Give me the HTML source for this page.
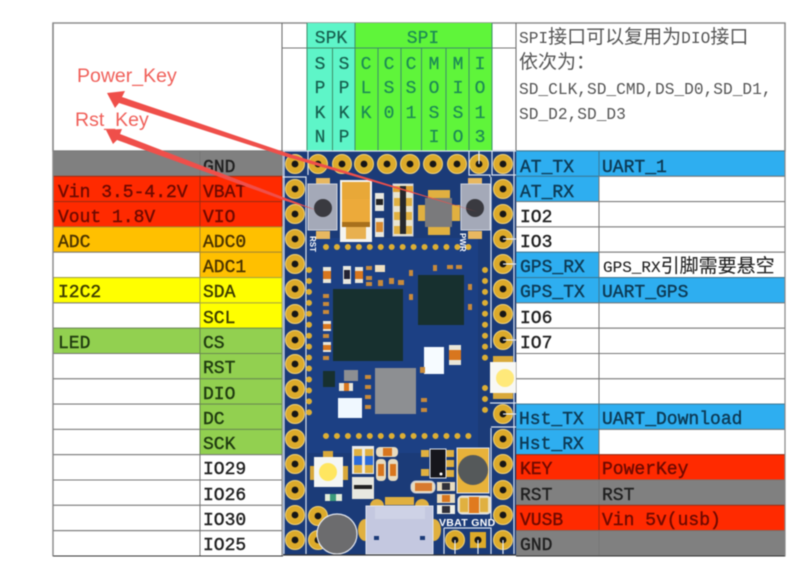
<!DOCTYPE html>
<html>
<head>
<meta charset="utf-8">
<style>
html,body{margin:0;padding:0;background:#fff;width:798px;height:588px;overflow:hidden}
svg{display:block;filter:blur(.5px)}
.t{font-family:"Liberation Mono","Noto Sans CJK SC",monospace;font-size:18px;fill:#222;stroke:#222;stroke-width:.4}
.r{fill:#6e0a00;stroke:#6e0a00}
.o{fill:#4a3300;stroke:#4a3300}
.y{fill:#3c3c00;stroke:#3c3c00}
.g{fill:#1f3a10;stroke:#1f3a10}
.b{fill:#0d3a55;stroke:#0d3a55}
.k{fill:#202020;stroke:#202020}
.h{font-family:"Liberation Mono","Noto Sans CJK SC",monospace;font-size:18px;text-anchor:middle;stroke-width:.2}
.sp{fill:#16604f;stroke:#16604f}
.si{fill:#1c8a55;stroke:#1c8a55}
.n{font-family:"Liberation Mono","Noto Sans CJK SC",monospace;font-size:16.2px;fill:#555}
.c{font-size:19px}
.l{font-family:"Liberation Sans",sans-serif;font-size:19.5px;fill:#f0605a}
.w{font-family:"Liberation Sans",sans-serif;font-weight:bold;fill:#fff}
</style>
</head>
<body>
<svg width="798" height="588" viewBox="0 0 798 588" xmlns="http://www.w3.org/2000/svg">
<defs>
<g id="p"><circle r="9.5" fill="#dcaa2a" stroke="#efd27c" stroke-width="1"/><circle r="3.4" fill="#161616"/></g>
</defs>
<rect width="798" height="588" fill="#fff"/>

<!-- header -->
<rect x="53" y="23" width="732" height="128" fill="#fff" stroke="#888" stroke-width="1.4"/>
<line x1="282" y1="23" x2="282" y2="151" stroke="#666"/>
<line x1="516" y1="23" x2="516" y2="151" stroke="#666"/>
<line x1="282" y1="48" x2="516" y2="48" stroke="#777"/>
<rect x="307" y="23" width="48" height="128" fill="#5ef5c8"/>
<rect x="355" y="23" width="137" height="128" fill="#5ff53a"/>
<g stroke="#3d8f6a" stroke-width="1">
<line x1="307" y1="48" x2="492" y2="48"/>
<line x1="307" y1="23" x2="307" y2="151"/>
<line x1="332.500" y1="48" x2="332.500" y2="151"/>
<line x1="355" y1="23" x2="355" y2="151"/>
<line x1="378" y1="48" x2="378" y2="151"/>
<line x1="401" y1="48" x2="401" y2="151"/>
<line x1="421.500" y1="48" x2="421.500" y2="151"/>
<line x1="446" y1="48" x2="446" y2="151"/>
<line x1="469" y1="48" x2="469" y2="151"/>
<line x1="492" y1="23" x2="492" y2="151"/>
</g>
<text class="h sp" x="331" y="43">SPK</text>
<text class="h si" x="423" y="43">SPI</text>
<text class="h sp" x="320" y="69">S</text><text class="h sp" x="320" y="93">P</text><text class="h sp" x="320" y="118">K</text><text class="h sp" x="320" y="142">N</text>
<text class="h sp" x="344" y="69">S</text><text class="h sp" x="344" y="93">P</text><text class="h sp" x="344" y="118">K</text><text class="h sp" x="344" y="142">P</text>
<text class="h si" x="366" y="69">C</text><text class="h si" x="366" y="93">L</text><text class="h si" x="366" y="118">K</text>
<text class="h si" x="389" y="69">C</text><text class="h si" x="389" y="93">S</text><text class="h si" x="389" y="118">0</text>
<text class="h si" x="411" y="69">C</text><text class="h si" x="411" y="93">S</text><text class="h si" x="411" y="118">1</text>
<text class="h si" x="434" y="69">M</text><text class="h si" x="434" y="93">O</text><text class="h si" x="434" y="118">S</text><text class="h si" x="434" y="142">I</text>
<text class="h si" x="458" y="69">M</text><text class="h si" x="458" y="93">I</text><text class="h si" x="458" y="118">S</text><text class="h si" x="458" y="142">O</text>
<text class="h si" x="480" y="69">I</text><text class="h si" x="480" y="93">O</text><text class="h si" x="480" y="118">1</text><text class="h si" x="480" y="142">3</text>

<text class="n" x="519" y="43">SPI<tspan class="c">接口可以复用为</tspan>DIO<tspan class="c">接口</tspan></text>
<text class="n" x="519" y="68"><tspan class="c">依次为：</tspan></text>
<text class="n" x="519" y="94">SD_CLK,SD_CMD,DS_D0,SD_D1,</text>
<text class="n" x="519" y="119">SD_D2,SD_D3</text>

<!-- left table -->
<g stroke="#777" stroke-width="1">
<rect x="53" y="151" width="147" height="25.3" fill="#808080"/><rect x="200" y="151" width="82" height="25.3" fill="#808080"/>
<rect x="53" y="176.300" width="147" height="25.3" fill="#ff2a00" stroke="#a02a10"/><rect x="200" y="176.300" width="82" height="25.3" fill="#ff2a00" stroke="#a02a10"/>
<rect x="53" y="201.600" width="147" height="25.3" fill="#ff2a00" stroke="#a02a10"/><rect x="200" y="201.600" width="82" height="25.3" fill="#ff2a00" stroke="#a02a10"/>
<rect x="53" y="226.900" width="147" height="25.3" fill="#ffc000" stroke="#a88a30"/><rect x="200" y="226.900" width="82" height="25.3" fill="#ffc000" stroke="#a88a30"/>
<rect x="53" y="252.200" width="147" height="25.3" fill="#fff"/><rect x="200" y="252.200" width="82" height="25.3" fill="#ffc000" stroke="#a88a30"/>
<rect x="53" y="277.600" width="147" height="25.3" fill="#ffff00" stroke="#a8a840"/><rect x="200" y="277.600" width="82" height="25.3" fill="#ffff00" stroke="#a8a840"/>
<rect x="53" y="302.900" width="147" height="25.3" fill="#fff"/><rect x="200" y="302.900" width="82" height="25.3" fill="#ffff00" stroke="#a8a840"/>
<rect x="53" y="328.200" width="147" height="25.3" fill="#92d050" stroke="#6a8a50"/><rect x="200" y="328.200" width="82" height="25.3" fill="#92d050" stroke="#6a8a50"/>
<rect x="53" y="353.500" width="147" height="25.3" fill="#fff"/><rect x="200" y="353.500" width="82" height="25.3" fill="#92d050" stroke="#6a8a50"/>
<rect x="53" y="378.800" width="147" height="25.3" fill="#fff"/><rect x="200" y="378.800" width="82" height="25.3" fill="#92d050" stroke="#6a8a50"/>
<rect x="53" y="404.100" width="147" height="25.3" fill="#fff"/><rect x="200" y="404.100" width="82" height="25.3" fill="#92d050" stroke="#6a8a50"/>
<rect x="53" y="429.400" width="147" height="25.3" fill="#fff"/><rect x="200" y="429.400" width="82" height="25.3" fill="#92d050" stroke="#6a8a50"/>
<rect x="53" y="454.700" width="147" height="25.3" fill="#fff"/><rect x="200" y="454.700" width="82" height="25.3" fill="#fff"/>
<rect x="53" y="480" width="147" height="25.3" fill="#fff"/><rect x="200" y="480" width="82" height="25.3" fill="#fff"/>
<rect x="53" y="505.300" width="147" height="25.3" fill="#fff"/><rect x="200" y="505.300" width="82" height="25.3" fill="#fff"/>
<rect x="53" y="530.700" width="147" height="25.3" fill="#fff"/><rect x="200" y="530.700" width="82" height="25.3" fill="#fff"/>
</g>
<text class="t k" x="203" y="172">GND</text>
<text class="t r" x="58" y="197">Vin 3.5-4.2V</text><text class="t r" x="203" y="197">VBAT</text>
<text class="t r" x="58" y="222">Vout 1.8V</text><text class="t r" x="203" y="222">VIO</text>
<text class="t o" x="58" y="247">ADC</text><text class="t o" x="203" y="247">ADC0</text>
<text class="t o" x="203" y="272">ADC1</text>
<text class="t y" x="58" y="297">I2C2</text><text class="t y" x="203" y="297">SDA</text>
<text class="t y" x="203" y="323">SCL</text>
<text class="t g" x="58" y="348">LED</text><text class="t g" x="203" y="348">CS</text>
<text class="t g" x="203" y="373">RST</text>
<text class="t g" x="203" y="399">DIO</text>
<text class="t g" x="203" y="424">DC</text>
<text class="t g" x="203" y="449">SCK</text>
<text class="t k" x="203" y="474">IO29</text>
<text class="t k" x="203" y="500">IO26</text>
<text class="t k" x="203" y="525">IO30</text>
<text class="t k" x="203" y="550">IO25</text>

<!-- right table -->
<g stroke="#777" stroke-width="1">
<rect x="516" y="151" width="83" height="25.3" fill="#2eaef0" stroke="#3a7a9a"/><rect x="599" y="151" width="186" height="25.3" fill="#2eaef0" stroke="#3a7a9a"/>
<rect x="516" y="176.300" width="83" height="25.3" fill="#2eaef0" stroke="#3a7a9a"/><rect x="599" y="176.300" width="186" height="25.3" fill="#fff"/>
<rect x="516" y="201.600" width="83" height="25.3" fill="#fff"/><rect x="599" y="201.600" width="186" height="25.3" fill="#fff"/>
<rect x="516" y="226.900" width="83" height="25.3" fill="#fff"/><rect x="599" y="226.900" width="186" height="25.3" fill="#fff"/>
<rect x="516" y="252.200" width="83" height="25.3" fill="#2eaef0" stroke="#3a7a9a"/><rect x="599" y="252.200" width="186" height="25.3" fill="#fff"/>
<rect x="516" y="277.600" width="83" height="25.3" fill="#2eaef0" stroke="#3a7a9a"/><rect x="599" y="277.600" width="186" height="25.3" fill="#2eaef0" stroke="#3a7a9a"/>
<rect x="516" y="302.900" width="83" height="25.3" fill="#fff"/><rect x="599" y="302.900" width="186" height="25.3" fill="#fff"/>
<rect x="516" y="328.200" width="83" height="25.3" fill="#fff"/><rect x="599" y="328.200" width="186" height="25.3" fill="#fff"/>
<rect x="516" y="353.500" width="83" height="25.3" fill="#fff"/><rect x="599" y="353.500" width="186" height="25.3" fill="#fff"/>
<rect x="516" y="378.800" width="83" height="25.3" fill="#fff"/><rect x="599" y="378.800" width="186" height="25.3" fill="#fff"/>
<rect x="516" y="404.100" width="83" height="25.3" fill="#2eaef0" stroke="#3a7a9a"/><rect x="599" y="404.100" width="186" height="25.3" fill="#2eaef0" stroke="#3a7a9a"/>
<rect x="516" y="429.400" width="83" height="25.3" fill="#2eaef0" stroke="#3a7a9a"/><rect x="599" y="429.400" width="186" height="25.3" fill="#fff"/>
<rect x="516" y="454.700" width="83" height="25.3" fill="#ff2a00" stroke="#a02a10"/><rect x="599" y="454.700" width="186" height="25.3" fill="#ff2a00" stroke="#a02a10"/>
<rect x="516" y="480" width="83" height="25.3" fill="#808080"/><rect x="599" y="480" width="186" height="25.3" fill="#808080"/>
<rect x="516" y="505.300" width="83" height="25.3" fill="#ff2a00" stroke="#a02a10"/><rect x="599" y="505.300" width="186" height="25.3" fill="#ff2a00" stroke="#a02a10"/>
<rect x="516" y="530.700" width="83" height="25.3" fill="#808080"/><rect x="599" y="530.700" width="186" height="25.3" fill="#808080"/>
</g>
<text class="t b" x="520" y="172">AT_TX</text><text class="t b" x="602" y="172">UART_1</text>
<text class="t b" x="520" y="197">AT_RX</text>
<text class="t k" x="520" y="222">IO2</text>
<text class="t k" x="520" y="247">IO3</text>
<text class="t b" x="520" y="272">GPS_RX</text>
<text class="t k" x="603" y="272" style="font-size:16px;stroke-width:.1">GPS_RX<tspan class="c">引脚需要悬空</tspan></text>
<text class="t b" x="520" y="297">GPS_TX</text><text class="t b" x="602" y="297">UART_GPS</text>
<text class="t k" x="520" y="323">IO6</text>
<text class="t k" x="520" y="348">IO7</text>
<text class="t b" x="519" y="424">Hst_TX</text><text class="t b" x="602" y="424">UART_Download</text>
<text class="t b" x="519" y="449">Hst_RX</text>
<text class="t r" x="520" y="474">KEY</text><text class="t r" x="602" y="474">PowerKey</text>
<text class="t k" x="520" y="500">RST</text><text class="t k" x="602" y="500">RST</text>
<text class="t r" x="520" y="525">VUSB</text><text class="t r" x="602" y="525">Vin 5v(usb)</text>
<text class="t k" x="520" y="550">GND</text>
<line x1="53" y1="556" x2="785" y2="556" stroke="#333" stroke-width="1"/>
<line x1="53" y1="23" x2="53" y2="556" stroke="#888" stroke-width="1.4"/>
<line x1="785" y1="23" x2="785" y2="556" stroke="#888" stroke-width="1.2"/>

<!-- board -->
<rect x="283" y="151" width="233" height="404" fill="#1b3b78"/>
<rect x="308" y="238" width="170" height="215" fill="#1c4084"/>
<g fill="none" stroke="#d8e2f0" stroke-width="1.2">
<path d="M283 151H516"/>
<path d="M283 177H306V554"/>
<path d="M308 151V175"/>
<path d="M469 151V175H490V177"/>
<path d="M492 151V175H516"/>
<path d="M491 177V348"/>
<path d="M490 403H516"/>
<path d="M491 427H516"/>
<path d="M284 151V554"/>
<path d="M491 428V520"/>
<path d="M444 528H491V554"/>
<path d="M444 528V554"/>
<path d="M514 151V554"/>
</g>

<!-- dots -->
<g stroke="#dcae34" stroke-width="6" stroke-linecap="round" stroke-dasharray="0 10.95" fill="none">
<line x1="326" y1="247" x2="470" y2="247"/>
<line x1="326" y1="436" x2="470" y2="436"/>
<line x1="309" y1="270" x2="309" y2="418"/>
<line x1="485" y1="270" x2="485" y2="360"/>
<line x1="485" y1="388" x2="485" y2="415"/>
</g>

<!-- pads -->
<use href="#p" x="295" y="164"/><use href="#p" x="318" y="164"/><use href="#p" x="342" y="164"/><use href="#p" x="364" y="164"/><use href="#p" x="387" y="164"/><use href="#p" x="410" y="164"/><use href="#p" x="433" y="164"/><use href="#p" x="457" y="164"/><use href="#p" x="479" y="164"/><use href="#p" x="503" y="164"/>
<use href="#p" x="295" y="189"/><use href="#p" x="295" y="214"/><use href="#p" x="295" y="239"/><use href="#p" x="295" y="264"/><use href="#p" x="295" y="289"/><use href="#p" x="295" y="314"/><use href="#p" x="295" y="340"/><use href="#p" x="295" y="364"/><use href="#p" x="295" y="389"/><use href="#p" x="295" y="414"/><use href="#p" x="295" y="439"/><use href="#p" x="295" y="464"/><use href="#p" x="295" y="490"/><use href="#p" x="295" y="515"/><use href="#p" x="295" y="540"/>
<use href="#p" x="503" y="189"/><use href="#p" x="503" y="214"/><use href="#p" x="503" y="239"/><use href="#p" x="503" y="264"/><use href="#p" x="503" y="289"/><use href="#p" x="503" y="314"/><use href="#p" x="503" y="340"/><use href="#p" x="503" y="414"/><use href="#p" x="503" y="439"/><use href="#p" x="503" y="464"/><use href="#p" x="503" y="490"/><use href="#p" x="503" y="515"/><use href="#p" x="503" y="540"/>
<use href="#p" x="318" y="516"/><use href="#p" x="318" y="540"/>
<use href="#p" x="455" y="540"/>
<rect x="470" y="532" width="16" height="16" fill="#dcaa2a"/><circle cx="478" cy="540" r="3.5" fill="#161616"/>
<g stroke="#e8eef8" stroke-width="1.2"><line x1="503" y1="239" x2="516" y2="239"/><line x1="503" y1="264" x2="516" y2="264"/><line x1="503" y1="340" x2="516" y2="340"/><line x1="503" y1="414" x2="516" y2="414"/><line x1="479" y1="151" x2="479" y2="164"/><line x1="455" y1="540" x2="455" y2="554"/><line x1="478" y1="540" x2="478" y2="554"/><line x1="503" y1="540" x2="503" y2="554"/></g>

<!-- buttons -->
<rect x="316" y="178" width="14" height="8" fill="#e8b860"/><rect x="316" y="231" width="14" height="8" fill="#e8b860"/>
<rect x="308" y="184" width="29" height="46" fill="#a4a9b8" stroke="#d0d4de"/>
<circle cx="323" cy="208" r="9" fill="#3a3a40"/>
<rect x="468" y="178" width="14" height="8" fill="#e8b860"/><rect x="468" y="231" width="14" height="8" fill="#e8b860"/>
<rect x="461" y="184" width="29" height="46" fill="#a4a9b8" stroke="#d0d4de"/>
<circle cx="475" cy="208" r="9" fill="#3a3a40"/>

<!-- tantalum cap -->
<rect x="340" y="180" width="32" height="62" fill="#f4f4f0"/>
<rect x="342" y="182" width="28" height="20" fill="#e8a838"/>
<rect x="342" y="199" width="28" height="28" fill="#ecaa3a"/>
<rect x="342" y="222" width="28" height="5" fill="#a8701c"/>
<rect x="346" y="227" width="20" height="12" fill="#e8b050"/>

<!-- small parts -->
<rect x="375" y="193" width="9" height="18" fill="#e8e8e0"/><rect x="376" y="199" width="7" height="6" fill="#222"/>
<rect x="375" y="218" width="9" height="19" fill="#e8e8e0"/><rect x="376" y="222" width="7" height="10" fill="#d88a30"/>
<rect x="393" y="184" width="20" height="52" fill="#e8e4d0" stroke="#c8ccd8"/>
<rect x="400" y="186" width="6" height="48" fill="#26282c"/>
<rect x="393" y="186" width="7" height="6" fill="#e0a030"/><rect x="406" y="186" width="7" height="6" fill="#e0a030"/>
<rect x="394" y="198" width="6" height="8" fill="#e0b040"/><rect x="406" y="198" width="6" height="8" fill="#e0b040"/>
<rect x="394" y="212" width="6" height="8" fill="#e0b040"/><rect x="406" y="212" width="6" height="8" fill="#e0b040"/>
<rect x="394" y="226" width="6" height="8" fill="#e0b040"/><rect x="406" y="226" width="6" height="8" fill="#e0b040"/>
<rect x="428" y="190" width="22" height="8" fill="#e0b040"/><rect x="428" y="227" width="22" height="8" fill="#e0b040"/>
<rect x="418" y="205" width="8" height="16" fill="#e0b040"/><rect x="452" y="205" width="8" height="16" fill="#e0b040"/>
<rect x="425" y="198" width="27" height="29" fill="#7a7a7c"/>
<text class="w" font-size="8" transform="translate(460,233) rotate(90)">PWR</text>
<text class="w" font-size="8" transform="translate(310,236) rotate(90)">RST</text>

<!-- chips mid -->
<rect x="333" y="289" width="70" height="72" fill="#17302f"/>
<rect x="418" y="275" width="46" height="50" fill="#17302f"/>
<rect x="424" y="347" width="20" height="27" fill="#f6fbff"/>
<rect x="449" y="345" width="12" height="20" fill="#eae6d8"/><rect x="449" y="350" width="12" height="10" fill="#d8761e"/>
<rect x="375" y="368" width="41" height="46" fill="#8d8f92"/>
<rect x="338" y="398" width="24" height="20" fill="#f0f8ff"/>
<rect x="323" y="371" width="12" height="16" fill="#17302f"/>
<rect x="344" y="370" width="14" height="11" fill="#8d8f92"/>
<rect x="339" y="383" width="14" height="8" fill="#eae6d8"/><rect x="344" y="383" width="5" height="8" fill="#d8761e"/>
<rect x="323" y="267" width="8" height="16" fill="#eae6d8"/><rect x="323" y="271" width="8" height="8" fill="#d8761e"/>
<rect x="343" y="266" width="8" height="18" fill="#e8e8e0"/><rect x="344" y="270" width="6" height="9" fill="#223"/>
<rect x="355" y="267" width="8" height="16" fill="#eae6d8"/><rect x="355" y="271" width="8" height="8" fill="#d8761e"/>
<rect x="375" y="265" width="10" height="7" fill="#f0e0c0"/>
<rect x="323" y="321" width="8" height="10" fill="#eae6d8"/><rect x="323" y="324" width="8" height="5" fill="#d8761e"/>
<rect x="323" y="342" width="8" height="10" fill="#eae6d8"/><rect x="323" y="345" width="8" height="5" fill="#d8761e"/>
<g fill="#c88a3a">
<rect x="366" y="266" width="6" height="4"/><rect x="366" y="276" width="6" height="4"/><rect x="366" y="282" width="6" height="4"/>
<rect x="378" y="280" width="5" height="6"/><rect x="389" y="278" width="5" height="6"/><rect x="398" y="280" width="6" height="5"/>
<rect x="409" y="270" width="4" height="6"/><rect x="409" y="294" width="4" height="6"/><rect x="433" y="265" width="4" height="6"/>
<rect x="447" y="265" width="6" height="4"/><rect x="456" y="265" width="6" height="4"/><rect x="468" y="284" width="4" height="6"/><rect x="468" y="304" width="4" height="6"/>
<rect x="323" y="294" width="6" height="4"/><rect x="323" y="302" width="6" height="4"/><rect x="323" y="310" width="6" height="4"/><rect x="323" y="334" width="6" height="4"/><rect x="323" y="356" width="6" height="4"/>
<rect x="365" y="375" width="6" height="4"/><rect x="365" y="385" width="6" height="4"/><rect x="365" y="395" width="6" height="4"/><rect x="365" y="405" width="6" height="4"/>
<rect x="420" y="367" width="5" height="6"/><rect x="421" y="398" width="6" height="4"/><rect x="421" y="408" width="6" height="4"/>
</g>

<!-- right LED -->
<rect x="493" y="356" width="20" height="7" fill="#d8a83a"/><rect x="493" y="392" width="20" height="7" fill="#d8a83a"/>
<rect x="490" y="362" width="26" height="31" fill="#f8f8f4"/>
<circle cx="505" cy="378" r="9" fill="#ffe97a"/>

<!-- lower parts -->
<rect x="310" y="466" width="38" height="14" fill="#d8a83a"/><rect x="323" y="451" width="10" height="8" fill="#d8a83a"/>
<rect x="314" y="457" width="29" height="30" fill="#f4f6f4"/>
<circle cx="328" cy="472" r="9" fill="#ffe660"/>
<rect x="325" y="494" width="17" height="7" fill="#e4ecd8"/><rect x="330" y="494" width="6" height="7" fill="#3a9a7a"/>
<rect x="352" y="446" width="22" height="28" fill="#eaeaea"/>
<rect x="354" y="449" width="8" height="24" fill="#e0b040"/><rect x="365" y="449" width="8" height="24" fill="#e0b040"/>
<rect x="354" y="456" width="8" height="9" fill="#2a6ad8"/><rect x="365" y="456" width="8" height="9" fill="#2a6ad8"/>
<rect x="352" y="477" width="22" height="22" fill="#e8e8e0"/><rect x="354" y="485" width="18" height="4" fill="#222"/>
<rect x="376" y="447" width="22" height="10" rx="4" fill="#e8dcc0"/><rect x="383" y="448" width="9" height="8" fill="#d8761e"/>
<rect x="376" y="459" width="10" height="22" rx="4" fill="#e8dcc0"/><rect x="378" y="464" width="6" height="12" fill="#d8761e"/>
<rect x="388" y="459" width="10" height="22" rx="4" fill="#e8dcc0"/><rect x="390" y="464" width="6" height="12" fill="#d8761e"/>
<rect x="421" y="450" width="8" height="7" fill="#e0b040"/><rect x="421" y="469" width="8" height="7" fill="#e0b040"/>
<rect x="446" y="450" width="8" height="7" fill="#e0b040"/><rect x="446" y="460" width="8" height="7" fill="#e0b040"/><rect x="446" y="470" width="8" height="7" fill="#e0b040"/>
<rect x="430" y="449" width="16" height="29" fill="#16161c" stroke="#dfe4ee"/>
<circle cx="441" cy="474" r="1.5" fill="#fff"/>
<rect x="457" y="448" width="32" height="45" fill="#e8b23a" stroke="#dfe4ee"/>
<circle cx="473" cy="470" r="15" fill="#55595a"/>
<rect x="411" y="481" width="24" height="12" rx="5" fill="#e8dcc0" stroke="#c8ccd8"/><rect x="415" y="483" width="17" height="8" fill="#d87a2e"/>
<rect x="437" y="482" width="18" height="9" fill="#e8dcc0"/><rect x="442" y="483" width="8" height="7" fill="#30303a"/>
<rect x="437" y="494" width="18" height="9" fill="#e8dcc0"/><rect x="442" y="495" width="8" height="7" fill="#d8761e"/>
<rect x="437" y="505" width="18" height="9" fill="#f0f0e8"/><rect x="442" y="506" width="8" height="7" fill="#30303a"/>
<rect x="458" y="496" width="33" height="18" rx="4" fill="#eadfc0" stroke="#dfe4ee"/><rect x="469" y="497" width="10" height="16" fill="#e07a1e"/><rect x="460" y="498" width="8" height="14" fill="#e0b040"/><rect x="480" y="498" width="8" height="14" fill="#e0b040"/>
<text class="w" x="439" y="526" font-size="10.500" style="letter-spacing:.3px">VBAT GND</text>

<!-- usb -->
<rect x="385" y="497" width="29" height="8" fill="#e0b040"/>
<circle cx="377" cy="506" r="7" fill="#e0b040"/><circle cx="422" cy="506" r="7" fill="#e0b040"/>
<ellipse cx="365" cy="530" rx="7" ry="11" fill="#e0b040"/><ellipse cx="434" cy="530" rx="7" ry="11" fill="#e0b040"/>
<rect x="366" y="506" width="67" height="48" fill="#c4c8e0" stroke="#e0e4f0"/>
<rect x="375" y="507" width="50" height="12" fill="#ced2e6"/>
<rect x="374" y="536" width="5" height="4" fill="#1b3b78"/><rect x="420" y="536" width="5" height="4" fill="#1b3b78"/>
<circle cx="337" cy="534" r="20" fill="#6c6c6e" stroke="#e4e8f0" stroke-width="1.2"/>

<!-- clip lower overflow -->
<rect x="283" y="554.500" width="233" height="34" fill="#fff"/>
<line x1="283" y1="555" x2="516" y2="555" stroke="#333" stroke-width="1.2"/>

<!-- arrows -->
<text class="l" x="77" y="82">Power_Key</text>
<text class="l" x="75" y="126">Rst_Key</text>
<g fill="#ef4f4a">
<path d="M107 93L125 91L122 97L290 154L478 212L287 157L119 103L115 108Z"/>
<path d="M106 130L122 129L120 134L288 199L316 210L286 201L117 140L113 144Z"/>
</g>
</svg>
</body>
</html>
